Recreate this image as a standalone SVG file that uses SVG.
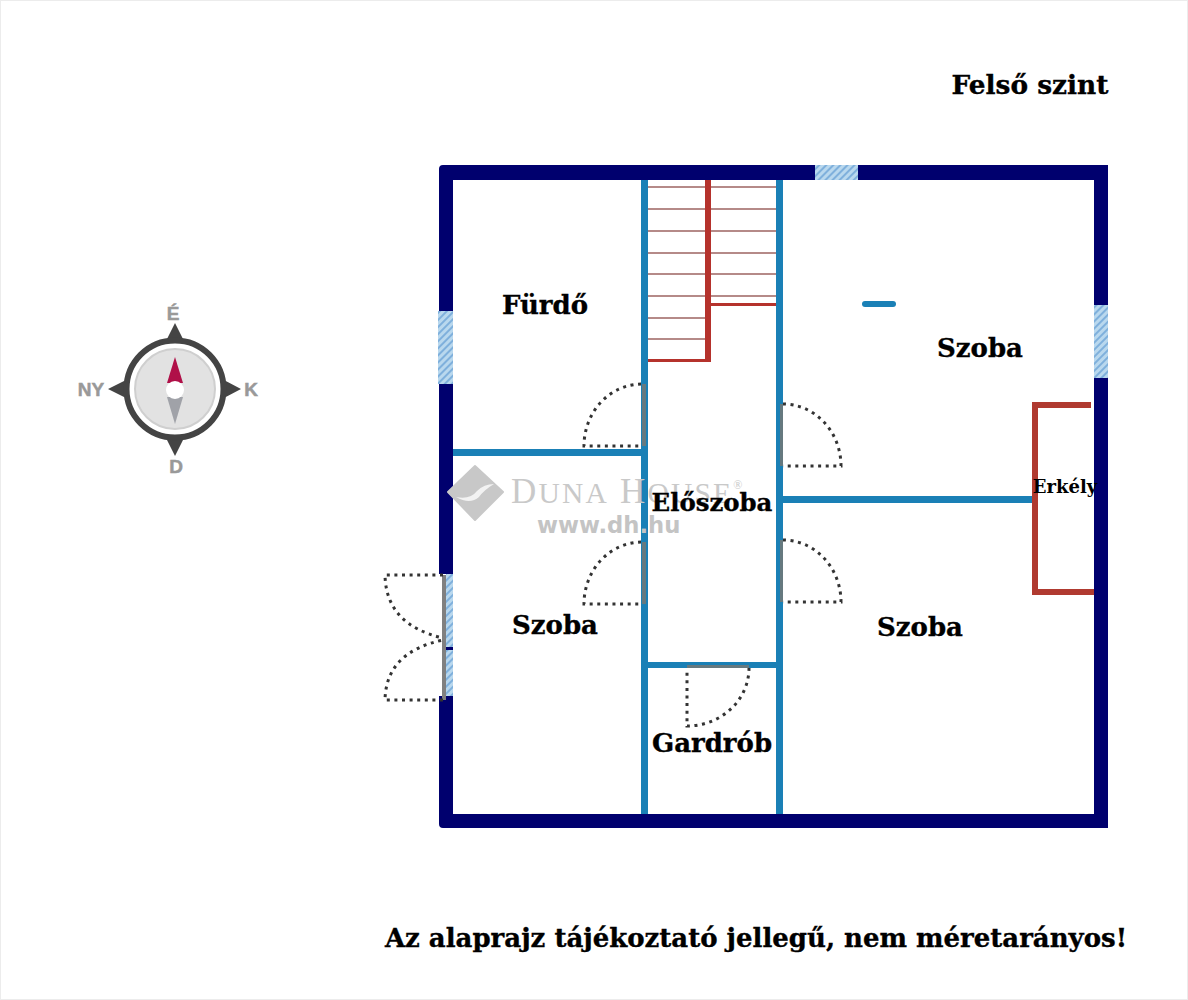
<svg xmlns="http://www.w3.org/2000/svg" width="1188" height="1000" viewBox="0 0 1188 1000">
<style>
text{font-family:"DejaVu Serif",serif;font-weight:700;fill:#000}
.ink{stroke:#000;stroke-width:.35px}
.room{font-size:26px}
.navy{fill:#00006e}
.blue{fill:#1a80b6}
.red{fill:#b5322c}
.brick{fill:#b03a30}
.tread{stroke:#b58a88;stroke-width:2;fill:none}
.dot{fill:none;stroke:#333;stroke-width:3;stroke-dasharray:3 4.6}
.leaf{fill:#66797f}
.comp{font-family:"Liberation Sans",sans-serif;font-size:19px;fill:#999;stroke:#999;stroke-width:.5px}
</style>
<defs>
<pattern id="hatch" width="5" height="5" patternUnits="userSpaceOnUse" patternTransform="rotate(-45)">
<rect width="5" height="5" fill="#b9d8ee"/><rect width="5" height="2" fill="#7fb0dc"/>
</pattern>
</defs>
<rect x="0.5" y="0.5" width="1187" height="999" fill="#fff" stroke="#ececec"/>
<g id="walls-outer">
<path class="navy" fill-rule="evenodd" d="M443 165H1108V828H443Q439 828 439 824V169Q439 165 443 165ZM453 180V814H1094V180Z"/>
<rect x="815" y="165" width="43" height="15" fill="url(#hatch)"/>
<rect x="438" y="311" width="15" height="73" fill="url(#hatch)"/>
<rect x="1094" y="305" width="14" height="73" fill="url(#hatch)"/>
<rect x="446" y="574" width="7" height="122" fill="url(#hatch)"/>
<rect x="438" y="574" width="8" height="122" fill="#fff"/>
<rect x="446" y="647" width="7" height="3" fill="#00006e"/>
</g>
<g id="stairs">
<path class="tread" d="M648 187H776M648 209H776M648 231H776M648 253H776M648 274H776M648 296H776M648 318H705M648 339H705"/>
<rect class="red" x="705" y="180" width="6" height="182"/>
<rect class="red" x="648" y="359" width="63" height="3"/>
<rect class="red" x="711" y="303" width="65" height="3"/>
</g>
<g id="walls-inner">
<rect class="blue" x="641" y="180" width="7" height="634"/>
<rect class="blue" x="776" y="180" width="7" height="634"/>
<rect class="blue" x="453" y="449" width="188" height="7"/>
<rect class="blue" x="783" y="496" width="249" height="7"/>
<rect class="blue" x="648" y="662" width="128" height="6"/>
<rect class="blue" x="862" y="301" width="34" height="6" rx="3"/>
</g>
<g id="balcony">
<path class="brick" d="M1032 402H1091V408H1038V589H1094V595H1032Z"/>
</g>
<g id="watermark">
<path d="M475 466L503 492L475 520L448 492Z" fill="#c8c8c8" stroke="#c8c8c8" stroke-width="2" stroke-linejoin="round"/>
<path d="M456 497Q470 500 477 491Q484 484 494 484Q484 490 479 497Q470 505 456 497Z" fill="#f2f2f2"/>
<text x="511" y="503" font-size="35" style="font-family:'Liberation Serif',serif;font-weight:400;fill:#c9c9c9;letter-spacing:2.2px">D<tspan font-size="29.5">UNA</tspan> H<tspan font-size="29.5">OUSE</tspan><tspan font-size="12" dy="-14">®</tspan></text>
<text x="537" y="533" font-size="22.7" style="font-family:'DejaVu Sans',sans-serif;font-weight:700;fill:#c4c4c4">www.dh.hu</text>
</g>
<g id="doors">
<rect class="leaf" x="642" y="384" width="4" height="62"/>
<rect class="leaf" x="642" y="542" width="4" height="62"/>
<rect class="leaf" x="780" y="404" width="3" height="62"/>
<rect class="leaf" x="780" y="540" width="3" height="62"/>
<rect class="leaf" x="687" y="665" width="62" height="3"/>
<rect x="442" y="575" width="4" height="125" fill="#808080"/>
<path class="dot" d="M641 384A58 62 0 0 0 584 446H641"/>
<path class="dot" d="M641 542A58 62 0 0 0 584 604H641"/>
<path class="dot" d="M783 404A58 62 0 0 1 841 466H783"/>
<path class="dot" d="M783 540A58 62 0 0 1 841 602H783"/>
<path class="dot" d="M749 668A62 58 0 0 1 687 726V668"/>
<path class="dot" d="M443 575H385Q386 625 443 638"/>
<path class="dot" d="M443 700H385Q386 652 443 640"/>
</g>
<g id="compass">
<path fill="#444" d="M175 323L185 343H165ZM175 456L165 436H185ZM108 389L128 379V399ZM241 389L222 399V379Z"/>
<circle cx="175" cy="389" r="48.5" fill="#fff" stroke="#444" stroke-width="6"/>
<circle cx="175" cy="389" r="40" fill="#e2e2e2" stroke="#cfcfcf" stroke-width="2"/>
<path fill="#b01048" d="M175 357L183 383H167Z"/>
<path fill="#a0a2a8" d="M167 397H183L175 424Z"/>
<circle cx="175" cy="390" r="9" fill="#fff"/>
<text class="comp" x="173" y="320" text-anchor="middle">É</text>
<text class="comp" x="91" y="396" text-anchor="middle">NY</text>
<text class="comp" x="251" y="396" text-anchor="middle">K</text>
<text class="comp" x="176" y="473" text-anchor="middle">D</text>
</g>
<g id="labels">
<text class="ink" x="1030" y="94" font-size="26.4" text-anchor="middle">Felső szint</text>
<text class="room ink" x="545" y="314" text-anchor="middle">Fürdő</text>
<text class="room ink" x="980" y="357" text-anchor="middle">Szoba</text>
<text class="ink" x="712" y="511" font-size="24.4" text-anchor="middle">Előszoba</text>
<text class="room ink" x="555" y="634" text-anchor="middle">Szoba</text>
<text class="room ink" x="920" y="636" text-anchor="middle">Szoba</text>
<text class="room ink" x="712" y="752" text-anchor="middle">Gardrób</text>
<text x="1065" y="493" font-size="18" text-anchor="middle">Erkély</text>
<text class="ink" x="756" y="947" font-size="26" text-anchor="middle">Az alaprajz tájékoztató jellegű, nem méretarányos!</text>
</g>
</svg>
